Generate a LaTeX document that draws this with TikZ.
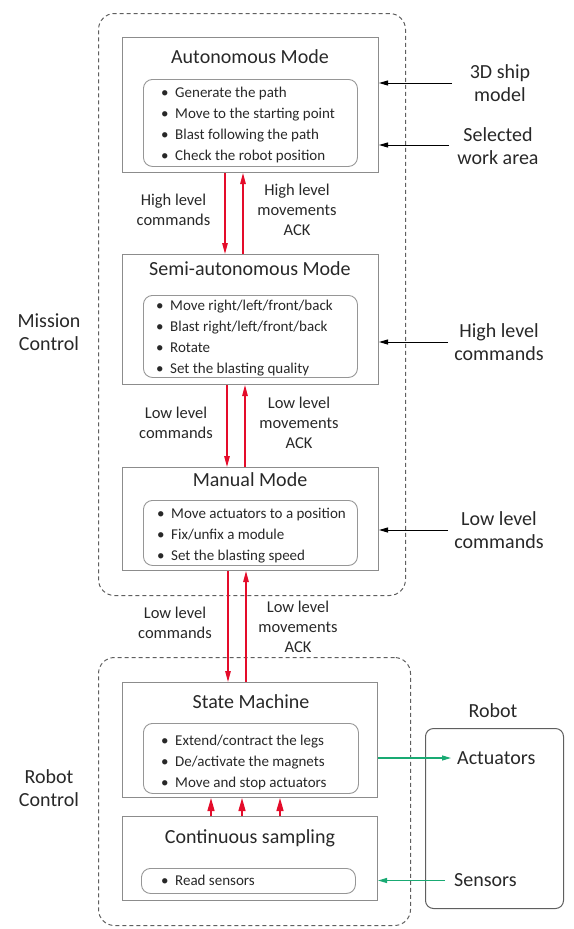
\documentclass[tikz,border=0pt]{standalone}
\usepackage{fontspec}
\setmainfont{Carlito}
\usetikzlibrary{arrows.meta}

\definecolor{ink}{RGB}{40,40,40}
\definecolor{boxline}{RGB}{140,140,140}
\definecolor{listline}{RGB}{150,150,150}
\definecolor{groupline}{RGB}{95,95,95}
\definecolor{flowred}{RGB}{228,12,42}
\definecolor{iogreen}{RGB}{25,170,115}

% bullet hanging to the left of an item
\newcommand{\blt}{\llap{\textbullet\hspace{6.5pt}}}
% centred lines whose baseline is the first line's
\newcommand{\lblstack}[1]{\begin{tabular}[t]{@{}c@{}}#1\end{tabular}}

\tikzset{
  groupbox/.style={draw=groupline, line width=1pt, dash pattern=on 4pt off 3pt,
    rounded corners=16pt, anchor=north west, inner sep=0pt},
  modebox/.style={draw=boxline, line width=1pt, anchor=north west, inner sep=0pt},
  listbox/.style={draw=listline, line width=0.9pt, rounded corners=9pt,
    anchor=north west, inner sep=0pt},
  robotbox/.style={draw=groupline, line width=1pt, rounded corners=8pt,
    anchor=north west, inner sep=0pt},
  title/.style={anchor=base, inner sep=0pt, text=ink, font=\fontsize{20}{24}\selectfont},
  item/.style={anchor=base west, inner sep=0pt, text=ink, font=\fontsize{15}{18}\selectfont},
  flowlabel/.style={anchor=base, inner sep=0pt, text=ink, font=\fontsize{16.5}{20}\selectfont},
  sidelabel/.style={anchor=base, inner sep=0pt, text=ink, font=\fontsize{20}{23.5}\selectfont},
  sidetext/.style={anchor=west, inner sep=0pt, text=ink, font=\fontsize{20}{24}\selectfont},
  flow/.style={draw=flowred, line width=1.3pt, -{Triangle[length=11pt,width=5.5pt]}},
  sensearrow/.style={draw=flowred, line width=1.3pt, -{Triangle[length=13pt,width=7pt]}},
  feed/.style={draw=black, line width=1pt, -{Triangle[length=9pt,width=5pt]}},
  io/.style={draw=iogreen, line width=1.1pt, -{Triangle[length=9pt,width=5pt]}},
}

\begin{document}
\begin{tikzpicture}[x=1pt,y=-1pt]
\path[use as bounding box] (0,0) rectangle (573,929);

% ---------- groups ----------
\node[groupbox, minimum width=307pt, minimum height=582pt] (mission) at (98,13) {};
\node[groupbox, minimum width=312pt, minimum height=268pt] (robotctl) at (98,657) {};

\node[sidelabel] (missionlbl) at (49,327) {\lblstack{Mission\\Control}};
\node[sidelabel] (robotctllbl) at (49,783) {\lblstack{Robot\\Control}};

% ---------- Autonomous mode ----------
\node[modebox, minimum width=256pt, minimum height=135pt] (auto) at (122,37) {};
\node[title] (autotitle) at (250,63) {Autonomous Mode};
\node[listbox, minimum width=214pt, minimum height=87pt] (autolist) at (143,79) {};
\node[item] (auto1) at (175,97)  {\blt Generate the path};
\node[item] (auto2) at (175,118) {\blt Move to the starting point};
\node[item] (auto3) at (175,139) {\blt Blast following the path};
\node[item] (auto4) at (175,160) {\blt Check the robot position};

% ---------- Semi-autonomous mode ----------
\node[modebox, minimum width=256pt, minimum height=130pt] (semi) at (122,254) {};
\node[title] (semititle) at (250,275) {Semi-autonomous Mode};
\node[listbox, minimum width=214pt, minimum height=82pt] (semilist) at (143,295) {};
\node[item] (semi1) at (170,310) {\blt Move right/left/front/back};
\node[item] (semi2) at (170,331) {\blt Blast right/left/front/back};
\node[item] (semi3) at (170,352) {\blt Rotate};
\node[item] (semi4) at (170,373) {\blt Set the blasting quality};

% ---------- Manual mode ----------
\node[modebox, minimum width=256pt, minimum height=103pt] (manual) at (122,467) {};
\node[title] (manualtitle) at (250,486) {Manual Mode};
\node[listbox, minimum width=214pt, minimum height=65pt] (manlist) at (143,500) {};
\node[item] (man1) at (171,518) {\blt Move actuators to a position};
\node[item] (man2) at (171,539) {\blt Fix/unfix a module};
\node[item] (man3) at (171,560) {\blt Set the blasting speed};

% ---------- State machine ----------
\node[modebox, minimum width=255pt, minimum height=115pt] (state) at (122,682) {};
\node[title] (statetitle) at (251,708) {State Machine};
\node[listbox, minimum width=215pt, minimum height=70pt] (statelist) at (143,723) {};
\node[item] (state1) at (175,745) {\blt Extend/contract the legs};
\node[item] (state2) at (175,766) {\blt De/activate the magnets};
\node[item] (state3) at (175,787) {\blt Move and stop actuators};

% ---------- Continuous sampling ----------
\node[modebox, minimum width=255pt, minimum height=84pt] (samp) at (122,816) {};
\node[title] (samptitle) at (250,843) {Continuous sampling};
\node[listbox, minimum width=214pt, minimum height=25pt] (samplist) at (141,868) {};
\node[item] (samp1) at (175,885) {\blt Read sensors};

% ---------- commands and acknowledgements ----------
\draw[flow] ([xshift=103pt]auto.south west) -- ([xshift=103pt]semi.north west);
\draw[flow] ([xshift=121pt]semi.north west) -- ([xshift=121pt]auto.south west);
\node[flowlabel] (hlcmd) at (173.5,205) {\lblstack{High level\\commands}};
\node[flowlabel] (hlack) at (297,195) {\lblstack{High level\\movements\\ACK}};

\draw[flow] ([xshift=105pt]semi.south west) -- ([xshift=105pt]manual.north west);
\draw[flow] ([xshift=123pt]manual.north west) -- ([xshift=123pt]semi.south west);
\node[flowlabel] (llcmd1) at (176,418) {\lblstack{Low level\\commands}};
\node[flowlabel] (llack1) at (299,408) {\lblstack{Low level\\movements\\ACK}};

\draw[flow] ([xshift=106pt]manual.south west) -- ([xshift=106pt]state.north west);
\draw[flow] ([xshift=124pt]state.north west) -- ([xshift=124pt]manual.south west);
\node[flowlabel] (llcmd2) at (175,618) {\lblstack{Low level\\commands}};
\node[flowlabel] (llack2) at (298,612) {\lblstack{Low level\\movements\\ACK}};

% sampled values handed to the state machine
\draw[sensearrow] ([xshift=89pt]samp.north west) -- ([xshift=89pt]state.south west);
\draw[sensearrow] ([xshift=120pt]samp.north west) -- ([xshift=120pt]state.south west);
\draw[sensearrow] ([xshift=158pt]samp.north west) -- ([xshift=158pt]state.south west);

% ---------- external inputs ----------
\node[sidelabel] (shipmodel) at (500,78) {\lblstack{3D ship\\model}};
\node[sidelabel] (workarea) at (498,141) {\lblstack{Selected\\work area}};
\node[sidelabel] (hlin) at (499,337) {\lblstack{High level\\commands}};
\node[sidelabel] (llin) at (499,525) {\lblstack{Low level\\commands}};

\coordinate (srcship) at (452,83);
\coordinate (srcarea) at (449,145);
\coordinate (srchl) at (448,342);
\coordinate (srcll) at (448,530);
\draw[feed] (srcship) -- (srcship -| auto.east);
\draw[feed] (srcarea) -- (srcarea -| auto.east);
\draw[feed] (srchl) -- (srchl -| semi.east);
\draw[feed] (srcll) -- (srcll -| manual.east);

% ---------- robot ----------
\node[sidelabel] (robotlbl) at (493,717) {Robot};
\node[robotbox, minimum width=138pt, minimum height=180pt] (robot) at (425,728) {};
\node[sidetext] (act) at (457,758) {Actuators};
\node[sidetext] (sens) at (454,880.5) {Sensors};

\draw[io] (state.east |- act.west) -- ([xshift=-6pt]act.west);
\draw[io] ([xshift=-9pt]sens.west) -- (sens.west -| samp.east);

\end{tikzpicture}
\end{document}
